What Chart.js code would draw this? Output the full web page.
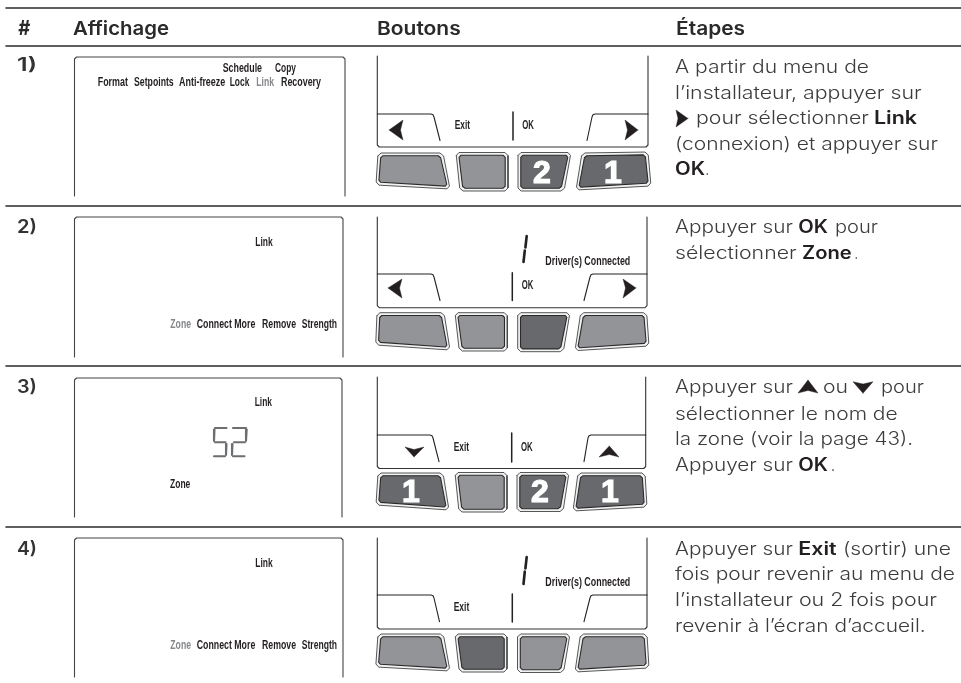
<!DOCTYPE html>
<html>
<head>
<meta charset="utf-8">
<title>Affichage Boutons Etapes</title>
<script src="https://cdn.jsdelivr.net/npm/chart.js@4/dist/chart.umd.min.js"></script>
<style>
html,body{margin:0;padding:0;background:#fff;}
canvas{display:block;}
</style>
</head>
<body>
<canvas id="manualTable" width="961" height="683"></canvas>
<script>
// table rules
var ruleY = [8, 46, 206, 366, 527];

// screen panels (left column)
var screenLeft = [74.5, 74.5, 74.5, 74.5];
var screenRight = [345, 343, 342, 343];
var screenTop = [57, 217, 378, 538];
var screenBottom = [196, 357, 517, 677];

// button panels (middle column)
var padLeft = [377.3, 377.3, 377.3, 377.3];
var padRight = [648, 647, 645.7, 647];
var padTop = [56, 217, 377, 538];
var padBottom = [147, 307.7, 468.5, 629];
var tabTop = [114, 274, 435, 595];
var tabBottom = [140.5, 300.5, 461.7, 621.7];
var tabLeftCorner = [434, 434, 433, 434];
var tabLeftEnd = [440, 440, 439, 439.5];
var tabRightCorner = [592, 590, 588, 590];
var tabRightEnd = [587, 584, 584, 584];
var barX = [513, 512.3, 511.7, 512.3];
var barTop = [112, 272.7, 433, 594];
var barBottom = [140, 300.5, 462, 622];

// key corners: top-left, top-right, bottom-right, bottom-left
var keysRow1 = [[[378,153],[443,153],[450,189],[376,185]], [[456,152.5],[508,152.5],[508,191],[460,191]], [[518,152.5],[571,152.5],[564,191],[518,191]], [[582,153],[648,152],[651,186],[576,190]]];
var keysRow2 = [[[377,312.7],[444,312.7],[450,350],[375.7,345]], [[455,312.7],[507.3,312.7],[507.3,351],[459.3,351]], [[517.7,312.7],[570,312.7],[563.3,351.7],[517.7,351.7]], [[580.7,312.7],[646.7,312.7],[649,346],[575,350.7]]];
var keysRow3 = [[[378,473],[443,473],[449,510],[376,505]], [[455,472.5],[507,472.5],[507,512],[459,512]], [[517,472.5],[569,472.5],[563,511.5],[517,511.5]], [[578,473],[645,473],[647,507],[573,511]]];
var keysRow4 = [[[378,634],[443.3,634],[450,671],[375.7,667]], [[455,634],[507,634],[507,672],[459.3,672]], [[517.5,634],[570,634],[563.5,672.5],[517.5,672.5]], [[580.5,634],[647,634],[649,668],[575,672]]];
var keysByRow = [keysRow1, keysRow2, keysRow3, keysRow4];
var pressedKeys = [[2, 3], [2], [0, 2, 3], [1]];

var keyNumbers = ["2", "1", "1", "2", "1"];
var keyNumberX = [542, 613, 411, 540, 610];
var keyNumberY = [183, 183, 502, 502, 502];

// arrows on the buttons and in the text
var arrowShapes = [
  [[389,130],[403,120],[400.5,130],[403,140]],
  [[638,130],[625,120],[627.5,130],[625,140]],
  [[388,288],[402,279],[399.5,288],[402,298]],
  [[636,288],[623,279],[625.5,288],[623,298]],
  [[414,457],[405,447],[414,449.5],[424,447]],
  [[609.3,446],[599,457],[609.3,454.5],[619,457]],
  [[688,118.5],[676,110],[678,118.5],[676,127]],
  [[808,380],[798,393],[808,390.5],[818,393]],
  [[863,393.3],[853,381.7],[863,384],[873,381.7]]
];

// LCD strokes
var oneStrokes = [
  [[526.7,236],[525.4,247.5]], [[524.8,250.5],[523.5,262]],
  [[526.7,557],[525.4,568.5]], [[524.8,571.5],[523.5,584]]
];
var zoneDigitStrokes = [
  [[215,428],[226.5,428]], [[214.5,429.5],[214,441]], [[215,442.3],[225.5,442.3]], [[226.5,444],[226,455]], [[214,456.3],[225,456.3]],
  [[233,428],[246,428]], [[246.7,429.5],[246,441]], [[234,442.3],[245,442.3]], [[232.5,444],[232,455]], [[233,456.3],[244.5,456.3]]
];

// header and row numbers
var headerLabels = ["#", "Affichage", "Boutons", "Étapes"];
var headerX = [18, 73, 377, 676];
var headerEnd = [30, 169, 460.7, 745];
var rowLabels = ["1)", "2)", "3)", "4)"];
var rowLabelY = [71, 233, 393, 555];

// LCD texts
var lcdLabels = ["Schedule","Copy","Format","Setpoints","Anti-freeze","Lock","Link","Recovery",
  "Link","Zone","Connect More","Remove","Strength",
  "Link","Zone",
  "Link","Zone","Connect More","Remove","Strength",
  "Exit","OK","OK","Driver(s) Connected","Exit","OK","Exit","Driver(s) Connected"];
var lcdX = [222.7,275,97.7,134,179,229.7,256.3,281,
  255.3,170.3,196.7,262,301.7,
  254.7,170,
  255.3,170.3,196.7,262,301.7,
  454.7,522.3,521.7,545.3,453.7,521,453.7,545.3];
var lcdEnd = [262,296,128,173.7,225.3,249.3,274,321,
  272.7,191,255.3,296,337,
  272,190.3,
  272.7,191,255.3,296,337,
  470,534,533.3,630.3,469,532.7,469.3,630.3];
var lcdY = [72.3,72.3,85.7,85.7,85.7,85.7,85.7,85.7,
  245.7,327.7,327.7,327.7,327.7,
  405.7,487.7,
  566.7,648.7,648.7,648.7,648.7,
  129,129,289.3,265,450.7,450.7,610.7,585.7];
var lcdDimmed = ["Link@6", "Zone@9", "Zone@16"];

// step texts, one entry per run
var stepRuns = ["A partir du menu de","l’installateur, appuyer sur","pour sélectionner","Link","(connexion) et appuyer sur","OK",".",
  "Appuyer sur","OK","pour","sélectionner","Zone",".",
  "Appuyer sur","ou","pour","sélectionner le nom de","la zone (voir la page 43).","Appuyer sur","OK",".",
  "Appuyer sur","Exit","(sortir) une","fois pour revenir au menu de","l’installateur ou 2 fois pour","revenir à l’écran d’accueil."];
var stepX = [675,675,696,874,675,675,705.5,
  675,798.3,835,675,802,854.5,
  675,823,881,675,675,675,798.3,831,
  675,798.3,843,675,675,675];
var stepEnd = [869,921.7,869,917,938,705,709,
  793,828,878,796.7,851.7,858,
  793,848,924,897.7,913,793,828,835,
  793,836.7,951,955,937,925.7];
var stepY = [73,98.5,124,124,150,175,175,
  233,233,233,259,259,259,
  393,393,393,420,445,471,471,471,
  555,555,555,580,606,632];
var stepBold = ["Link","OK","Zone","Exit"];

function line(points, color, width, fillColor) {
  return {
    data: points.map(function (p) { return {x: p[0], y: p[1]}; }),
    showLine: true,
    pointRadius: 0,
    tension: 0,
    borderColor: color,
    borderWidth: width,
    borderJoinStyle: 'round',
    borderCapStyle: 'round',
    backgroundColor: fillColor || 'transparent',
    fill: fillColor ? 'shape' : false
  };
}

function chamfer(corners, r) {
  var out = [];
  corners.forEach(function (c, i) {
    var prev = corners[(i + 3) % 4], next = corners[(i + 1) % 4];
    var d1 = Math.hypot(prev[0] - c[0], prev[1] - c[1]);
    var d2 = Math.hypot(next[0] - c[0], next[1] - c[1]);
    out.push([c[0] + (prev[0] - c[0]) * r / d1, c[1] + (prev[1] - c[1]) * r / d1]);
    out.push([c[0] + (next[0] - c[0]) * r / d2, c[1] + (next[1] - c[1]) * r / d2]);
  });
  out.push(out[0]);
  return out;
}

function inset(corners, d) {
  return [
    [corners[0][0] + d, corners[0][1] + d],
    [corners[1][0] - d, corners[1][1] + d],
    [corners[2][0] - d, corners[2][1] - d],
    [corners[3][0] + d, corners[3][1] - d]
  ];
}

var datasets = [];

ruleY.forEach(function (y) {
  datasets.push(line([[6, y], [961, y]], '#2b2b2b', 1.6));
});

screenLeft.forEach(function (left, i) {
  var right = screenRight[i], top = screenTop[i], bottom = screenBottom[i];
  datasets.push(line([[left, bottom], [left, top + 2], [left + 2, top], [right - 2, top], [right, top + 2], [right, bottom]], '#444', 1.1));
});

padLeft.forEach(function (left, i) {
  var right = padRight[i], bottom = padBottom[i], top = tabTop[i];
  datasets.push(line([[left, padTop[i]], [left, bottom - 2], [left + 2, bottom], [right - 2, bottom], [right, bottom - 2], [right, padTop[i]]], '#333', 1.1));
  datasets.push(line([[left, top], [tabLeftCorner[i] - 3, top], [tabLeftCorner[i] - 1, top + 0.7], [tabLeftCorner[i], top + 3], [tabLeftEnd[i], tabBottom[i]]], '#222', 1.1));
  datasets.push(line([[right, top], [tabRightCorner[i] + 3, top], [tabRightCorner[i] + 1, top + 0.7], [tabRightCorner[i], top + 3], [tabRightEnd[i], tabBottom[i]]], '#222', 1.1));
  datasets.push(line([[barX[i], barTop[i]], [barX[i], barBottom[i]]], '#222', 1.5));
  keysByRow[i].forEach(function (corners, k) {
    var pressed = pressedKeys[i].indexOf(k) >= 0;
    datasets.push(line(chamfer(corners, 3), '#444', 0.9, '#f1f1f1'));
    datasets.push(line(chamfer(inset(corners, 2.8), 2), '#2a2a2a', 1.1, pressed ? '#67696c' : '#929497'));
  });
});

arrowShapes.forEach(function (shape) {
  datasets.push(line(shape.concat([shape[0]]), '#231f20', 0.4, '#231f20'));
});
oneStrokes.forEach(function (s) {
  datasets.push(line(s, '#222', 2.6));
});
zoneDigitStrokes.forEach(function (s) {
  datasets.push(line(s, '#6d6e71', 2.1));
});

datasets.forEach(function (d, i) { d.order = -i; });

// texts are placed through the same scales as the lines
function fitText(ctx, scales, text, x, end, y, font, color) {
  var px = scales.x.getPixelForValue(x);
  var pxEnd = scales.x.getPixelForValue(end);
  var py = scales.y.getPixelForValue(y);
  ctx.font = font;
  ctx.fillStyle = color;
  ctx.textAlign = 'left';
  ctx.textBaseline = 'alphabetic';
  var w = ctx.measureText(text).width;
  ctx.save();
  ctx.translate(px, py);
  ctx.scale((pxEnd - px) / w, 1);
  ctx.fillText(text, 0, 0);
  ctx.restore();
}

var tableText = {
  id: 'tableText',
  afterDatasetsDraw: function (chart) {
    var ctx = chart.ctx, scales = chart.scales;
    headerLabels.forEach(function (t, i) {
      var font = i == 0 ? 'italic 700 20px Inter' : '600 19px Inter';
      fitText(ctx, scales, t, headerX[i], headerEnd[i], 35, font, '#2b2a2b');
    });
    rowLabels.forEach(function (t, i) {
      fitText(ctx, scales, t, 17, 37, rowLabelY[i], '600 18px Inter', '#333');
    });
    lcdLabels.forEach(function (t, i) {
      var dim = lcdDimmed.indexOf(t + '@' + i) >= 0;
      fitText(ctx, scales, t, lcdX[i], lcdEnd[i], lcdY[i], 'bold 12.5px "Liberation Sans Narrow", "Liberation Sans"', dim ? '#85878a' : '#231f20');
    });
    stepRuns.forEach(function (t, i) {
      var bold = stepBold.indexOf(t) >= 0;
      var font = bold ? '600 18px Inter' : '300 18px Inter';
      fitText(ctx, scales, t, stepX[i], stepEnd[i], stepY[i], font, bold ? '#231f20' : '#3c3b3d');
    });
    ctx.font = 'bold 32px "Liberation Sans"';
    ctx.fillStyle = '#fff';
    ctx.strokeStyle = '#fff';
    ctx.lineWidth = 1.2;
    ctx.textAlign = 'center';
    ctx.textBaseline = 'alphabetic';
    keyNumbers.forEach(function (t, i) {
      var kx = scales.x.getPixelForValue(keyNumberX[i]);
      var ky = scales.y.getPixelForValue(keyNumberY[i]);
      ctx.strokeText(t, kx, ky);
      ctx.fillText(t, kx, ky);
    });
  }
};

new Chart(document.getElementById('manualTable').getContext('2d'), {
  type: 'scatter',
  data: {datasets: datasets},
  plugins: [tableText],
  options: {
    responsive: false,
    animation: false,
    events: [],
    layout: {padding: 0},
    plugins: {legend: {display: false}, tooltip: {enabled: false}},
    scales: {
      x: {type: 'linear', min: 0, max: 961, display: false},
      y: {type: 'linear', min: 0, max: 683, reverse: true, display: false}
    }
  }
});
</script>
</body>
</html>
